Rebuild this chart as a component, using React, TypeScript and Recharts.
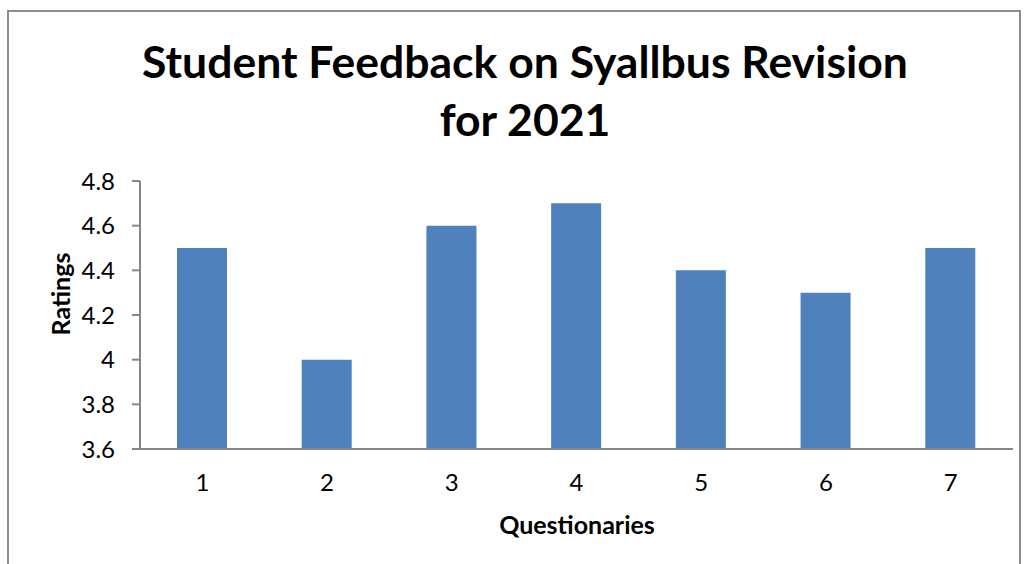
import { BarChart, Bar, XAxis, YAxis } from "recharts";

const questions = ["1", "2", "3", "4", "5", "6", "7"];
const ratings = [4.5, 4.0, 4.6, 4.7, 4.4, 4.3, 4.5];
const yTicks = [3.6, 3.8, 4.0, 4.2, 4.4, 4.6, 4.8];

const data = questions.map((q, i) => ({ q, rating: ratings[i] }));

const font = "Lato, 'Open Sans', sans-serif";
const axisColor = "#868686";

export default function App() {
  return (
    <div
      style={{
        position: "absolute",
        left: 0,
        top: 0,
        width: 1030,
        height: 564,
        background: "#fff",
        overflow: "hidden",
        fontFamily: font,
      }}
    >
      <div
        style={{
          position: "absolute",
          left: 7,
          top: 10,
          width: 1014,
          height: 600,
          border: "2px solid #8c8c8c",
          boxSizing: "border-box",
        }}
      />
      <div
        style={{
          position: "absolute",
          left: 0,
          width: 1050,
          top: 32,
          textAlign: "center",
          fontWeight: 700,
          fontSize: 44.5,
          lineHeight: "58px",
          color: "#000",
        }}
      >
        Student Feedback on Syallbus Revision
        <br />
        for 2021
      </div>
      <BarChart
        width={1030}
        height={564}
        data={data}
        margin={{ top: 181, right: 17, bottom: 85, left: 80 }}
        style={{ position: "absolute", left: 0, top: 0 }}
      >
        <XAxis
          dataKey="q"
          stroke={axisColor}
          strokeWidth={2}
          tickLine={false}
          tick={{ fill: "#000", fontSize: 24, fontFamily: font }}
          tickMargin={19}
        />
        <YAxis
          width={60}
          domain={[3.6, 4.8]}
          ticks={yTicks}
          tickFormatter={(v: number) => String(Number(v.toFixed(1)))}
          stroke={axisColor}
          strokeWidth={2}
          tickSize={8}
          tickMargin={17}
          allowDataOverflow
          tick={{ fill: "#000", fontSize: 24, fontFamily: font }}
        />
        <Bar dataKey="rating" fill="#4F81BD" barSize={50} isAnimationActive={false} />
      </BarChart>
      <div
        style={{
          position: "absolute",
          left: 60,
          top: 294,
          transform: "translate(-50%, -50%) rotate(-90deg)",
          fontWeight: 700,
          fontSize: 25,
          color: "#000",
          whiteSpace: "nowrap",
        }}
      >
        Ratings
      </div>
      <div
        style={{
          position: "absolute",
          left: 577,
          top: 524,
          transform: "translate(-50%, -50%)",
          fontWeight: 700,
          fontSize: 25,
          color: "#000",
          whiteSpace: "nowrap",
        }}
      >
        Questionaries
      </div>
    </div>
  );
}
